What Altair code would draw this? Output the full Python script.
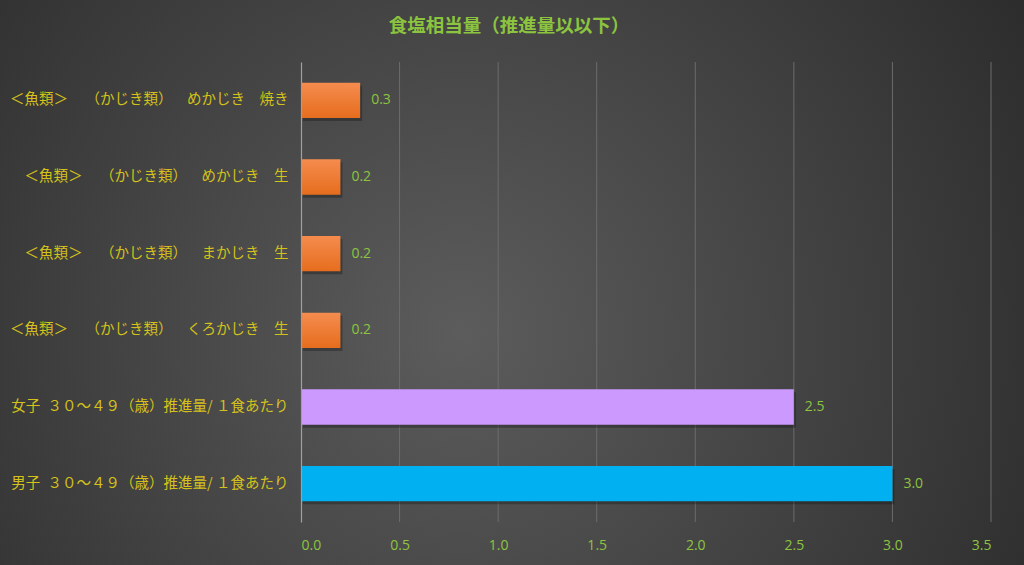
import altair as alt
import pandas as pd

categories = [
    "＜魚類＞　\u2009（かじき類）　\u2002めかじき　焼き",
    "＜魚類＞　\u2009（かじき類）　\u2002めかじき　生",
    "＜魚類＞　\u2009（かじき類）　\u2002まかじき　生",
    "＜魚類＞　\u2009（かじき類）　\u2002くろかじき　生",
    "女子\u2002３０～４９（歳）推進量/ １食あたり",
    "男子\u2002３０～４９（歳）推進量/ １食あたり",
]
values = [0.3, 0.2, 0.2, 0.2, 2.5, 3.0]
groups = ["fish", "fish", "fish", "fish", "female", "male"]
ticks = [0, 0.5, 1, 1.5, 2, 2.5, 3, 3.5]
title_text = "食塩相当量（推進量以以下）"

df = pd.DataFrame({"cat": categories, "val": values, "grp": groups})

W, H = 690, 460
PL, PT, PR, PB = 301, 62, 33, 43
GREEN = "#8CC43F"
YELLOW = "#D4C21A"
NUMFONT = "Liberation Sans Narrow, Open Sans, sans-serif"
CJK = "Noto Sans CJK JP"

bg = alt.Chart(pd.DataFrame({"a": [0]})).mark_rect(
    fill={
        "gradient": "radial",
        "x1": 0.45, "y1": 0.55, "r1": 0.0,
        "x2": 0.45, "y2": 0.55, "r2": 0.75,
        "stops": [
            {"offset": 0.0, "color": "#5c5c5c"},
            {"offset": 1.0, "color": "#242424"},
        ],
    }
).encode(
    x=alt.value(-PL), x2=alt.value(W + PR),
    y=alt.value(-PT), y2=alt.value(H + PB),
)

title = alt.Chart(pd.DataFrame({"t": [title_text]})).mark_text(
    font=CJK, fontSize=18.5, fontWeight="bold", color=GREEN, align="center", baseline="middle"
).encode(x=alt.value(509 - PL), y=alt.value(26 - PT), text="t:N")

xscale = alt.Scale(domain=[0, 3.5], nice=False)
xaxis = alt.Axis(title=None, values=ticks, format=".1f",
                 labelColor=GREEN, labelFont=NUMFONT, labelFontSize=14,
                 labelPadding=16, ticks=False, domain=False,
                 grid=False, zindex=1)

grid = alt.Chart(pd.DataFrame({"g": ticks[1:]})).mark_rule(color="#6c6c6c", strokeWidth=1).encode(
    x=alt.X("g:Q", scale=xscale, axis=xaxis), y=alt.value(0), y2=alt.value(H))

ysc = alt.Y("cat:N", sort=categories,
            scale=alt.Scale(paddingInner=0.54, paddingOuter=0.27),
            axis=alt.Axis(title=None, labelColor=YELLOW, labelFont=CJK, labelFontSize=14.5,
                          labelPadding=13, ticks=False, domain=True, domainColor="#a0a0a0",
                          domainWidth=1.2, labelLimit=400, grid=False, zindex=1))
xsc = alt.X("val:Q", scale=xscale, axis=xaxis)

base = alt.Chart(df)

shadow = base.mark_bar(color="#151515", opacity=0.35, xOffset=2, yOffset=3).encode(x=xsc, y=ysc)

bars_fish = base.transform_filter(alt.datum.grp == "fish").mark_bar(
    fill={
        "gradient": "linear", "x1": 0, "y1": 0, "x2": 0, "y2": 1,
        "stops": [{"offset": 0, "color": "#F58C4E"}, {"offset": 1, "color": "#E66D1E"}],
    }
).encode(x=xsc, y=ysc)

bars_f = base.transform_filter(alt.datum.grp == "female").mark_bar(color="#CC99FF").encode(x=xsc, y=ysc)
bars_m = base.transform_filter(alt.datum.grp == "male").mark_bar(color="#00B0F0").encode(x=xsc, y=ysc)

labels = base.mark_text(align="left", baseline="middle", dx=11, color=GREEN,
                        font=NUMFONT, fontSize=14).encode(
    x=xsc, y=ysc, text=alt.Text("val:Q", format=".1f"))

chart = alt.layer(bg, grid, shadow, bars_fish, bars_f, bars_m, labels, title).properties(
    width=W, height=H,
    autosize=alt.AutoSizeParams(type="none"),
    padding={"left": PL, "top": PT, "right": PR, "bottom": PB},
    background="#333333",
).configure_view(stroke=None)

chart.save("out.html", embed_options={"renderer": "svg", "actions": False})
